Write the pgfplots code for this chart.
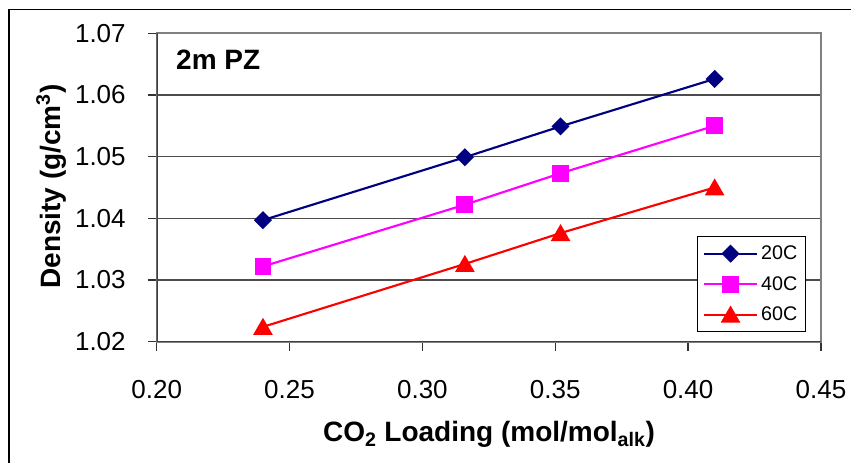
\documentclass[border=0pt]{standalone}
\usepackage{fontspec}
\setmainfont{Liberation Sans}
\usepackage{pgfplots}
\pgfplotsset{compat=1.18}
\definecolor{navyc}{HTML}{000080}
\definecolor{magc}{HTML}{FF00FF}
\definecolor{redc}{HTML}{FF0000}
\begin{document}
\begin{tikzpicture}
\path[use as bounding box] (0,0) rectangle (638.25pt,347.25pt);
\draw[black, line width=1pt] (6.75pt,-5pt) -- (6.75pt,340.1pt) -- (650pt,340.1pt);
\begin{axis}[
  at={(117.5pt,91pt)}, anchor=south west,
  width=498.2pt, height=231.3pt, scale only axis,
  xmin=0.2, xmax=0.45, ymin=1.02, ymax=1.07,
  xtick={0.20,0.25,0.30,0.35,0.40,0.45},
  ytick={1.02,1.03,1.04,1.05,1.06,1.07},
  scaled ticks=false,
  xticklabel style={/pgf/number format/fixed, /pgf/number format/fixed zerofill, /pgf/number format/precision=2, /pgf/number format/assume math mode=true, anchor=north, inner sep=0pt, yshift=-22pt},
  yticklabel style={/pgf/number format/fixed, /pgf/number format/fixed zerofill, /pgf/number format/precision=2, /pgf/number format/assume math mode=true, anchor=east, inner sep=0pt, xshift=-16.3pt},
  tick label style={font=\fontsize{19.5}{22}\selectfont},
  ymajorgrids, major grid style={black!70, line width=0.9pt},
  axis line style={gray, line width=1.5pt},
  tick style={black!80, line width=1pt}, tick align=outside, major tick length=6.75pt,
  xtick pos=bottom, ytick pos=left,
  legend style={at={(0.9774,0.3427)}, anchor=north east, draw=black, line width=0.75pt,
    font=\fontsize{14.8}{17}\selectfont, inner xsep=4pt, inner ysep=5pt, row sep=7pt},
  legend cell align=left,
  legend image code/.code={\draw[mark repeat=2,mark phase=2,#1] plot coordinates {(0cm,0cm) (0.71cm,0cm) (1.42cm,0cm)};},
]
\addplot[navyc, line width=1.6pt, mark=square*, mark size=4pt, mark options={rotate=45, solid}] coordinates {
  (0.240,1.0397) (0.316,1.0499) (0.352,1.0549) (0.410,1.0626)};
\addlegendentry{20C}
\addplot[magc, line width=1.6pt, mark=square*, mark size=5.5pt, mark options={solid}] coordinates {
  (0.240,1.0322) (0.316,1.0422) (0.352,1.0473) (0.410,1.0550)};
\addlegendentry{40C}
\addplot[redc, line width=1.6pt, mark=triangle*, mark size=6.9pt, mark options={solid, yshift=-1.7pt}] coordinates {
  (0.240,1.0224) (0.316,1.0326) (0.352,1.0376) (0.410,1.0450)};
\addlegendentry{60C}
\draw[black!75, line width=1.5pt] (rel axis cs:0,1) -- (rel axis cs:0,0) -- (rel axis cs:1,0);
\node[anchor=base west, inner sep=0pt, font=\bfseries\fontsize{21}{24}\selectfont] at (axis description cs:0.029,0.884) {2m PZ};
\end{axis}
\node[anchor=base, inner sep=0pt, font=\bfseries\fontsize{21}{24}\selectfont] at (366.75pt,15.75pt) {CO\textsubscript{2} Loading (mol/mol\textsubscript{alk})};
\node[rotate=90, anchor=base, inner sep=0pt, font=\bfseries\fontsize{21}{24}\selectfont] at (45pt,207.4pt) {Density (g/cm\textsuperscript{3})};
\end{tikzpicture}
\end{document}
